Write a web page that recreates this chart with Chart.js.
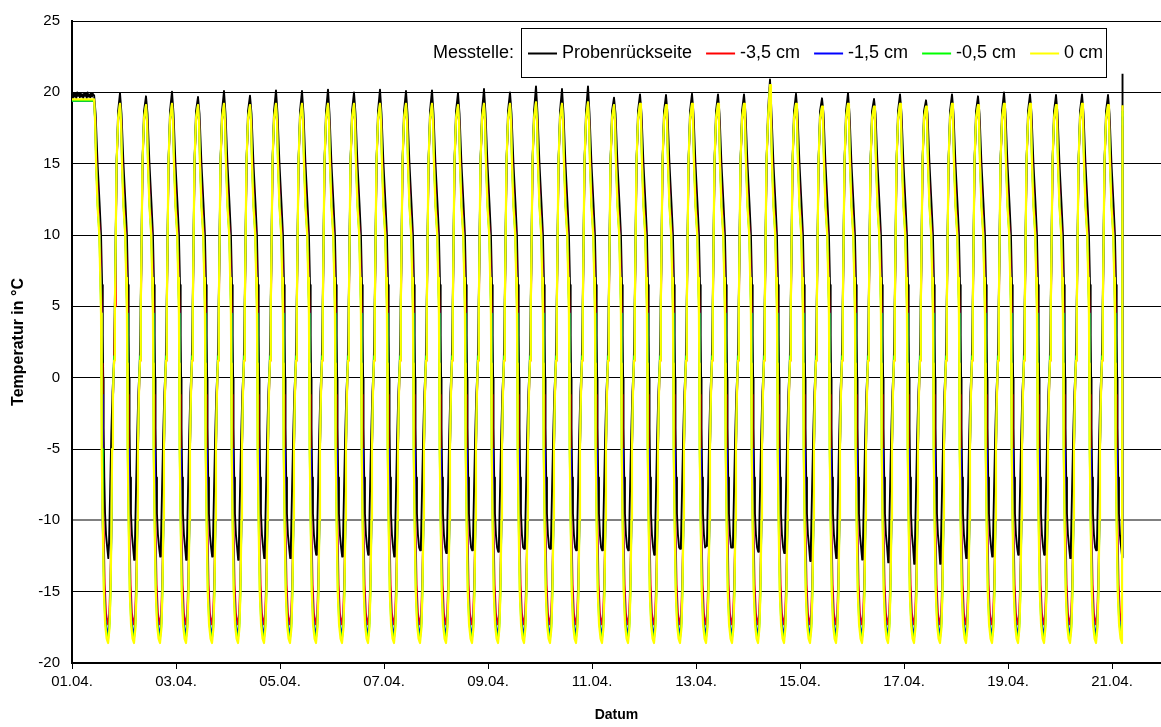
<!DOCTYPE html>
<html>
<head>
<meta charset="utf-8">
<script src="https://cdn.jsdelivr.net/npm/chart.js@4/dist/chart.umd.min.js"></script>
<style>
html,body{margin:0;padding:0;background:#fff;overflow:hidden}
#wrap{width:1161px;height:727px;position:relative}
</style>
</head>
<body>
<div id="wrap"><canvas id="c" width="1161" height="727"></canvas></div>
<script>
// ---------------- data ----------------
const seriesNames  = ['Probenrückseite', '-3,5 cm', '-1,5 cm', '-0,5 cm', '0 cm'];
const seriesColors = ['#000000', '#ff0000', '#0000ff', '#00ff00', '#ffff00'];
const legendTitle  = 'Messtelle:';

const dateTickDays = [0, 2, 4, 6, 8, 10, 12, 14, 16, 18, 20];
const dateLabels   = ['01.04.', '03.04.', '05.04.', '07.04.', '09.04.', '11.04.', '13.04.', '15.04.', '17.04.', '19.04.', '21.04.'];
const tempTicks    = [-20, -15, -10, -5, 0, 5, 10, 15, 20, 25];

// start phase at room temperature (hours since 01.04. 00:00)
const flatHours = [0, 0.4, 0.8, 1.2, 1.6, 2.0, 2.4, 2.8, 3.2, 3.6, 4.0, 4.4, 4.8, 5.2, 5.6, 6.0, 6.4, 6.8, 7.2, 7.6, 8.0, 8.4, 8.8, 9.2, 9.6, 10.0];
const flatBlack = [19.8, 19.6, 19.95, 19.7, 19.9, 19.6, 20.0, 19.75, 19.9, 19.65, 19.95, 19.7, 19.85, 19.6, 19.95, 19.75, 19.9, 19.6, 20.0, 19.7, 19.85, 19.65, 19.95, 19.7, 19.9, 19.8];
const flatLevels = [19.45, 19.4, 19.4, 19.5];          // red, blue, green, yellow

const firstDropHour = 10.2;     // end of start phase
const firstPeakHour = 22.15;    // first warm peak
const cycleHours    = 12;       // one freeze/thaw cycle

// warm peaks of each cycle (cycle 1 .. 39)
const peaksBlack = [19.95, 19.72, 20.05, 19.67, 20.09, 19.77, 20.14, 20.09, 20.19, 20.0,
                    20.19, 20.09, 20.14, 19.95, 20.23, 20.0, 20.42, 20.23, 20.42, 19.63,
                    19.86, 19.81, 19.9, 19.86, 19.86, 20.9, 19.9, 19.58, 19.95, 19.53,
                    19.86, 19.44, 19.86, 19.72, 20.0, 19.86, 19.81, 19.86, 19.81];
const peaksColored = [19.2, 19.1, 19.2, 19.1, 19.2, 19.1, 19.2, 19.2, 19.2, 19.2,
                      19.2, 19.2, 19.2, 19.1, 19.2, 19.2, 19.3, 19.2, 19.3, 19.1,
                      19.2, 19.1, 19.2, 19.2, 19.2, 20.5, 19.2, 19.0, 19.2, 19.0,
                      19.2, 19.0, 19.2, 19.1, 19.2, 19.2, 19.1, 19.2, 19.1];
// cold minima of the back side (cycle 0 .. 39)
const minsBlack = [-12.65, -12.77, -12.54, -12.77, -12.54, -12.77, -12.65, -12.65, -12.42, -12.54,
                   -12.42, -12.54, -12.1, -12.3, -12.1, -12.2, -12.0, -12.0, -12.1, -12.1,
                   -12.1, -12.42, -12.0, -11.8, -11.9, -12.2, -12.3, -12.85, -12.65, -12.75,
                   -12.95, -13.05, -13.05, -12.65, -12.54, -12.42, -12.42, -12.65, -12.1, -12.6];
const minsColored = [-17.3, -18.0, -18.3, -18.6];      // red, blue, green, yellow

// end of measurement: probes back at room temperature
const endHour   = 484.85;
const endValues = [21.3, 17.7, 18.3, 18.7, 19.1];

// course of one cycle, hours after the warm peak ('P' = peak, 'M' = minimum)
const shapeBlack  = [[0,'P'],[0.7,18.5],[1.6,15],[2.5,12.3],[3.2,10],[3.7,6.5],[4.0,3],[4.2,0],[4.4,-3.5],[4.7,-7],[5.05,-9.5],[5.5,-11],[6.05,-11.9],[6.55,'M'],[6.9,-11.6],[7.4,-8],[7.95,-4],[8.5,-1],[9.1,0.8],[9.5,4.5],[10.0,10],[10.4,15],[11.1,18.7]];
const shapeRed    = [[0,'P'],[0.55,18],[1.1,15],[1.9,12],[2.7,10],[3.15,7],[3.5,4.5],[3.65,1],[3.8,-1.2],[3.95,-5],[4.3,-10],[4.9,-14.5],[5.5,-16.5],[6.0,-17.0],[6.45,'M'],[7.0,-16.6],[7.55,-14],[8.05,-10],[8.3,-5],[8.7,-1.5],[9.05,0.3],[9.3,1.2],[9.65,5],[10.05,10],[10.4,15],[11.1,18]];
const shapeBlue   = [[0,'P'],[0.5,18],[1.0,15],[1.75,12],[2.55,10],[3.0,7],[3.35,4.5],[3.5,1],[3.65,-1.2],[3.75,-5],[4.1,-10],[4.7,-15],[5.3,-17],[5.9,-17.7],[6.45,'M'],[7.05,-17.2],[7.6,-14.5],[8.05,-10],[8.3,-5],[8.7,-1.5],[9.0,0.3],[9.25,1.5],[9.6,5],[10.0,10],[10.35,15],[11.1,18.1]];
const shapeGreen  = [[0,'P'],[0.47,18],[0.95,15],[1.65,12],[2.45,10],[2.9,7],[3.25,4.5],[3.4,1],[3.55,-1.2],[3.65,-5],[4.0,-10],[4.55,-15],[5.15,-17.1],[5.85,-18.0],[6.45,'M'],[7.1,-17.4],[7.6,-15],[8.05,-10],[8.3,-5],[8.7,-1.5],[9.0,0.5],[9.25,1.5],[9.6,5],[10.0,10],[10.35,15],[11.1,18.2]];
const shapeYellow = [[0,'P'],[0.45,18],[0.9,15],[1.6,12],[2.4,10],[2.85,7],[3.2,4.5],[3.35,1],[3.5,-1.2],[3.6,-5],[3.95,-10],[4.5,-15],[5.1,-17.3],[5.8,-18.3],[6.45,'M'],[7.1,-17.6],[7.6,-15],[8.05,-10],[8.3,-5],[8.7,-1.5],[9.0,0.3],[9.25,1.2],[9.6,5],[10.0,10],[10.35,15],[11.1,18.2]];
// ----------------------------------------------------------------------

const shapes = [shapeBlack, shapeRed, shapeBlue, shapeGreen, shapeYellow];
const peakHours = [firstDropHour];
for (let k = 0; k < peaksBlack.length; k++) peakHours.push(firstPeakHour + k * cycleHours);

function buildSeries(si) {
  const shape = shapes[si];
  const pts = flatHours.map((h, j) => ({ x: h / 24, y: si === 0 ? flatBlack[j] : flatLevels[si - 1] }));
  peakHours.forEach((t0, k) => {
    const peak = k === 0
      ? (si === 0 ? flatBlack[flatBlack.length - 1] : flatLevels[si - 1])
      : (si === 0 ? peaksBlack[k - 1] : peaksColored[k - 1]);
    const low = si === 0 ? minsBlack[k] : minsColored[si - 1];
    const lastCycle = k === peakHours.length - 1;
    for (const [dh, v] of shape) {
      pts.push({ x: (t0 + dh) / 24, y: v === 'P' ? peak : (v === 'M' ? low : v) });
      if (lastCycle && v === 'M') break;
    }
  });
  pts.push({ x: endHour / 24, y: endValues[si] });
  return pts;
}

const FONT = '"Liberation Sans", Arial, Helvetica, sans-serif';

const datasets = seriesNames.map((name, i) => ({
  label: name,
  data: buildSeries(i),
  borderColor: seriesColors[i],
  backgroundColor: seriesColors[i],
  borderWidth: i === 4 ? 2.2 : 1.9,
  pointRadius: 0,
  tension: 0,
  fill: false,
  borderJoinStyle: 'round',
  order: 4 - i
}));

const boxLegend = {
  id: 'boxLegend',
  afterDraw(chart) {
    const ctx = chart.ctx;
    ctx.save();
    const bx = 521, by = 28, bw = 585, bh = 49, cy = by + bh / 2 + 1;
    ctx.fillStyle = '#ffffff';
    ctx.fillRect(bx, by, bw, bh);
    ctx.strokeStyle = '#000000';
    ctx.lineWidth = 1;
    ctx.strokeRect(bx + 0.5, by + 0.5, bw, bh);
    ctx.font = '18px ' + FONT;
    ctx.textBaseline = 'middle';
    ctx.fillStyle = '#000000';
    ctx.textAlign = 'right';
    ctx.fillText(legendTitle, bx - 7, cy);
    ctx.textAlign = 'left';
    let x = bx + 7;
    seriesNames.forEach((name, i) => {
      ctx.strokeStyle = seriesColors[i];
      ctx.lineWidth = 2;
      ctx.beginPath();
      ctx.moveTo(x, cy);
      ctx.lineTo(x + 29, cy);
      ctx.stroke();
      ctx.fillStyle = '#000000';
      ctx.fillText(name, x + 34, cy);
      x += 34 + ctx.measureText(name).width + 14;
    });
    ctx.restore();
  }
};

new Chart(document.getElementById('c'), {
  type: 'line',
  data: { datasets },
  options: {
    responsive: false,
    devicePixelRatio: 1,
    animation: false,
    normalized: true,
    layout: { padding: { top: 18, left: 0, right: 0, bottom: 0 } },
    plugins: { legend: { display: false }, tooltip: { enabled: false } },
    scales: {
      x: {
        type: 'linear',
        min: 0,
        max: 20.942,
        afterBuildTicks: s => { s.ticks = dateTickDays.map(v => ({ value: v })); },
        afterFit: s => { s.height = 64; },
        ticks: {
          callback: v => dateLabels[dateTickDays.indexOf(v)],
          font: { family: FONT, size: 15 },
          color: '#000',
          padding: 4,
          maxRotation: 0,
          autoSkip: false
        },
        grid: { drawOnChartArea: false, drawTicks: true, tickLength: 6, color: '#000', lineWidth: 1 },
        border: { display: true, color: '#000', width: 2 },
        title: { display: true, text: 'Datum', font: { family: FONT, size: 14, weight: 'bold' }, color: '#000', padding: { top: 0, bottom: 3 } }
      },
      y: {
        type: 'linear',
        min: -20,
        max: 25,
        afterBuildTicks: s => { s.ticks = tempTicks.map(v => ({ value: v })); },
        afterFit: s => { s.width = 72; },
        ticks: { font: { family: FONT, size: 15 }, color: '#000', padding: 12 },
        grid: {
          drawTicks: false,
          color: c => (c.tick && c.tick.value === -10) ? '#808080' : '#000000',
          lineWidth: c => (c.tick && c.tick.value === -10) ? 2 : 1
        },
        border: { display: true, color: '#000', width: 2 },
        title: { display: true, text: 'Temperatur in °C', font: { family: FONT, size: 16, weight: 'bold' }, color: '#000', padding: { top: 9, bottom: 0 } }
      }
    }
  },
  plugins: [boxLegend]
});
</script>
</body>
</html>
